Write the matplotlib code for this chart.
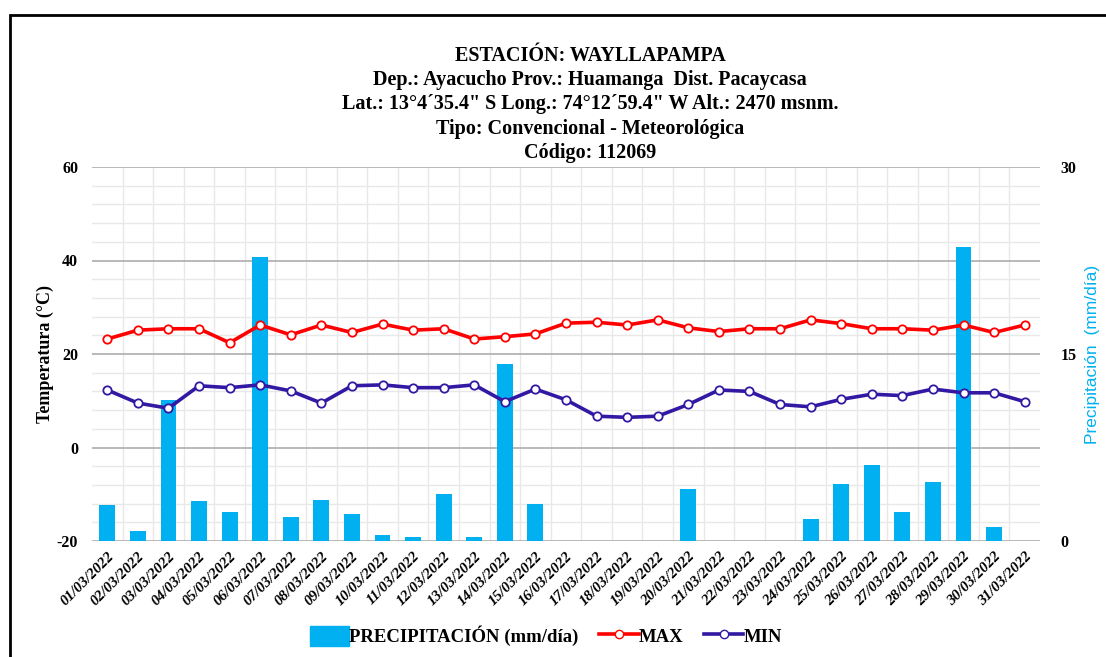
import matplotlib
matplotlib.use("Agg")
import matplotlib.pyplot as plt
from matplotlib.patches import Rectangle, Patch
from matplotlib.lines import Line2D
from matplotlib.ticker import MultipleLocator, FixedLocator, FuncFormatter

plt.rcParams["axes.unicode_minus"] = False

# Datos de la estación (marzo 2022)
fechas = ["%02d/03/2022" % d for d in range(1, 32)]
t_max = [23.2, 25.1, 25.4, 25.4, 22.4, 26.2, 24.1, 26.2, 24.6, 26.4,
         25.1, 25.4, 23.2, 23.7, 24.3, 26.6, 26.8, 26.2, 27.3, 25.6,
         24.8, 25.4, 25.4, 27.3, 26.5, 25.4, 25.4, 25.1, 26.2, 24.6, 26.2]
t_min = [12.3, 9.5, 8.4, 13.2, 12.8, 13.4, 12.1, 9.5, 13.2, 13.4,
         12.8, 12.8, 13.4, 9.8, 12.5, 10.2, 6.7, 6.45, 6.7, 9.2,
         12.3, 12.0, 9.2, 8.7, 10.3, 11.4, 11.1, 12.5, 11.7, 11.7, 9.8]
precip = [2.9, 0.8, 11.3, 3.2, 2.3, 22.8, 1.95, 3.3, 2.2, 0.5,
          0.35, 3.8, 0.35, 14.2, 3.0, 0, 0, 0, 0, 4.2,
          0, 0, 0, 1.75, 4.55, 6.1, 2.35, 4.7, 23.6, 1.15, 0]

titulo = ("ESTACIÓN: WAYLLAPAMPA\n"
          "Dep.: Ayacucho Prov.: Huamanga  Dist. Pacaycasa\n"
          "Lat.: 13°4´35.4\" S Long.: 74°12´59.4\" W Alt.: 2470 msnm.\n"
          "Tipo: Convencional - Meteorológica\n"
          "Código: 112069")

SERIF = "Liberation Serif"
AZUL = "#00B0F0"
ROJO = "#FF0000"
MORADO = "#3318A3"

fig = plt.figure(figsize=(11.06, 6.57), dpi=100)
ax = fig.add_axes([92 / 1106, 1 - 541 / 657, (1040 - 92) / 1106, (541 - 167) / 657])
x = list(range(len(fechas)))

# eje de temperatura encima (izquierda), precipitación en el eje base
axt = ax.twinx()

ax.bar(x, precip, width=0.52, color=AZUL, zorder=2)
ax.set_xlim(-0.5, len(fechas) - 0.5)
ax.set_ylim(0, 30)
ax.yaxis.tick_right()
ax.yaxis.set_label_position("right")
ax.yaxis.set_major_locator(MultipleLocator(7.5))
ax.yaxis.set_minor_locator(MultipleLocator(1.5))
ax.yaxis.set_major_formatter(FuncFormatter(lambda v, p: "%d" % v if v % 15 == 0 else ""))
ax.xaxis.set_major_locator(FixedLocator(x))
ax.xaxis.set_minor_locator(FixedLocator([i + 0.5 for i in x[:-1]]))
ax.set_xticklabels(fechas, rotation=45, ha="right", rotation_mode="anchor",
                   fontfamily=SERIF, fontweight="bold", fontstyle="italic", fontsize=11)
ax.tick_params(which="both", length=0)
ax.tick_params(axis="x", pad=6)
ax.tick_params(axis="y", pad=15)
for lab in ax.get_yticklabels():
    lab.set_fontfamily(SERIF)
    lab.set_fontweight("bold")
    lab.set_fontsize(11.5)
ax.grid(which="major", axis="y", color="#ADADAD", lw=1.2, zorder=0)
ax.grid(which="minor", axis="both", color="#E8E8E8", lw=1.0, zorder=0)
ax.set_axisbelow(True)
for s in ax.spines.values():
    s.set_visible(False)
ax.set_ylabel("Precipitación  (mm/día)", color=AZUL, fontfamily="Liberation Sans",
              fontsize=12.5, labelpad=6)

axt.yaxis.tick_left()
axt.yaxis.set_label_position("left")
axt.plot(x, t_max, color=ROJO, lw=2.6, marker="o", ms=6, mfc="white", mec=ROJO, mew=1.3)
axt.plot(x, t_min, color=MORADO, lw=2.6, marker="o", ms=6, mfc="white", mec=MORADO, mew=1.3)
axt.set_ylim(-20, 60)
axt.set_yticks([-20, 0, 20, 40, 60])
axt.tick_params(length=0, pad=10)
for lab in axt.get_yticklabels():
    lab.set_fontfamily(SERIF)
    lab.set_fontweight("bold")
    lab.set_fontsize(11.5)
for s in axt.spines.values():
    s.set_visible(False)
axt.set_ylabel("Temperatura (°C)", fontfamily=SERIF, fontweight="bold", fontsize=13, labelpad=2)

fig.text(590 / 1106, 1 - 46 / 657, titulo, ha="center", va="top", fontfamily=SERIF,
         fontweight="bold", fontsize=14.5, linespacing=1.28)

handles = [Patch(color=AZUL),
           Line2D([], [], color=ROJO, lw=2.6, marker="o", ms=6, mfc="white", mec=ROJO),
           Line2D([], [], color=MORADO, lw=2.6, marker="o", ms=6, mfc="white", mec=MORADO)]
fig.legend(handles, ["PRECIPITACIÓN (mm/día)", "MAX", "MIN"], loc="center",
           bbox_to_anchor=(546 / 1106, 1 - 636 / 657), ncol=3, frameon=False,
           prop={"family": SERIF, "weight": "bold", "size": 13.5},
           handlelength=2.1, handletextpad=0.0, columnspacing=1.1, handleheight=1.2)

# marco exterior
fig.add_artist(Rectangle((10 / 1106, -0.1), 1.2, 1.1 - 15 / 657, transform=fig.transFigure,
                         fill=False, ec="black", lw=2))

fig.savefig("out.png", dpi=100)
